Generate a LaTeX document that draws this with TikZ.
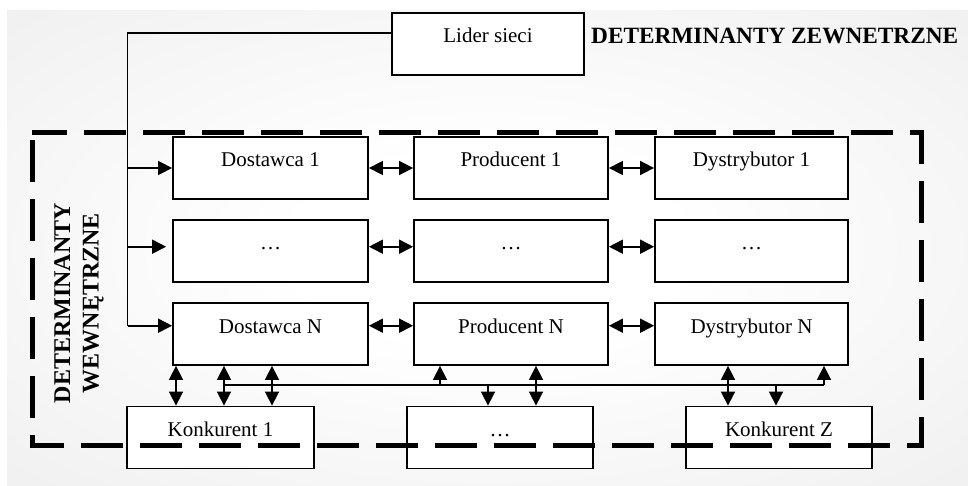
\documentclass[tikz,border=0pt]{standalone}
\usepackage{fontspec}
\setmainfont{Liberation Serif}
\usetikzlibrary{arrows.meta}

% soft glow behind the whole network
\pgfdeclareradialshading{bgglow}{\pgfpoint{0bp}{0bp}}{%
  color(0bp)=(white); color(10bp)=(white); color(50bp)=(black!9); color(71bp)=(black!10)}

\begin{document}
\begin{tikzpicture}[x=1pt,y=-1pt,
  >={Triangle[length=14pt,width=14pt]},
  box/.style={draw, line width=1.8pt, fill=white, minimum height=62pt,
    inner sep=0pt, text height=14pt, text depth=16pt,
    font=\fontsize{21}{25}\selectfont},
  link/.style={line width=1.6pt},
  zone/.style={line width=5pt, dash pattern=on 42pt off 17pt, dash phase=7pt},
  heading/.style={font=\fontsize{23.3}{27}\selectfont\bfseries, inner sep=0pt}
]
\useasboundingbox (0,0) rectangle (968,486);
\shade[shading=bgglow] (7,11) rectangle (968,485);

% leader of the network
\node[box, minimum width=192pt] (lider) at (488,44) {Lider sieci};
\node[heading, anchor=base west] (zew) at (591,43.3) {DETERMINANTY ZEWNETRZNE};

% chain: suppliers, producers, distributors
\node[box, minimum width=195pt] (d1) at (270.5,168) {Dostawca 1};
\node[box, minimum width=194pt] (p1) at (511,168) {Producent 1};
\node[box, minimum width=193pt] (y1) at (751.5,168) {Dystrybutor 1};
\node[box, minimum width=195pt] (d2) at (270.5,251) {…};
\node[box, minimum width=194pt] (p2) at (511,251) {…};
\node[box, minimum width=193pt] (y2) at (751.5,251) {…};
\node[box, minimum width=195pt] (d3) at (270.5,334) {Dostawca N};
\node[box, minimum width=194pt] (p3) at (511,334) {Producent N};
\node[box, minimum width=193pt] (y3) at (751.5,334) {Dystrybutor N};

% competitors
\node[box, minimum width=187pt] (k1) at (220.5,437.5) {Konkurent 1};
\node[box, minimum width=186pt] (km) at (500,437.5) {…};
\node[box, minimum width=186pt] (kz) at (779,437.5) {Konkurent Z};

% internal determinants label
\node[rotate=90, align=center, inner sep=0pt,
  font=\fontsize{24}{28.5}\selectfont\bfseries] (wew) at (79,303)
  {DETERMINANTY\\WEWNĘTRZNE};

% leader's links to the suppliers
\coordinate (bus) at (127.5,325.7);
\draw[link] ([yshift=11pt]lider.west) -| (bus);
\draw[link,->] (bus |- d1.west) -- (d1.west);
\draw[link,->] ([yshift=4.3pt]bus |- d2.west) -- ([xshift=-6pt,yshift=4.3pt]d2.west);
\draw[link,->] (bus) -- (bus -| d3.west);

% links along the chain
\foreach \a/\b/\s in {d1/p1/0, p1/y1/0, d2/p2/4.3, p2/y2/4.3, d3/p3/8.3, p3/y3/8.3}
  \draw[link,<->] ([yshift=\s pt]\a.east) -- ([yshift=\s pt]\b.west);

% links to the competitors
\coordinate (ca) at (176,385);
\coordinate (cb) at (224,385);
\coordinate (cc) at (272,385);
\coordinate (cd) at (440,385);
\coordinate (ce) at (488,385);
\coordinate (cf) at (536,385);
\coordinate (cg) at (728,385);
\coordinate (ch) at (776,385);
\coordinate (ci) at (824,385);
\draw[link] (cb) -- (ci);
\draw[link,<->] (d3.south -| ca) -- (k1.north -| ca);
\draw[link,<->] (d3.south -| cb) -- (k1.north -| cb);
\draw[link,<->] (d3.south -| cc) -- (k1.north -| cc);
\draw[link,->] (cd) -- (p3.south -| cd);
\draw[link,->] (ce) -- (km.north -| ce);
\draw[link,<->] (p3.south -| cf) -- (km.north -| cf);
\draw[link,<->] (y3.south -| cg) -- (kz.north -| cg);
\draw[link,->] (ch) -- (kz.north -| ch);
\draw[link,->] (ci) -- (y3.south -| ci);

% boundary of the internal determinants
\draw[zone] (32,133) -- (921,133) -- (921,445) -- (32,445) -- cycle;
\end{tikzpicture}
\end{document}
